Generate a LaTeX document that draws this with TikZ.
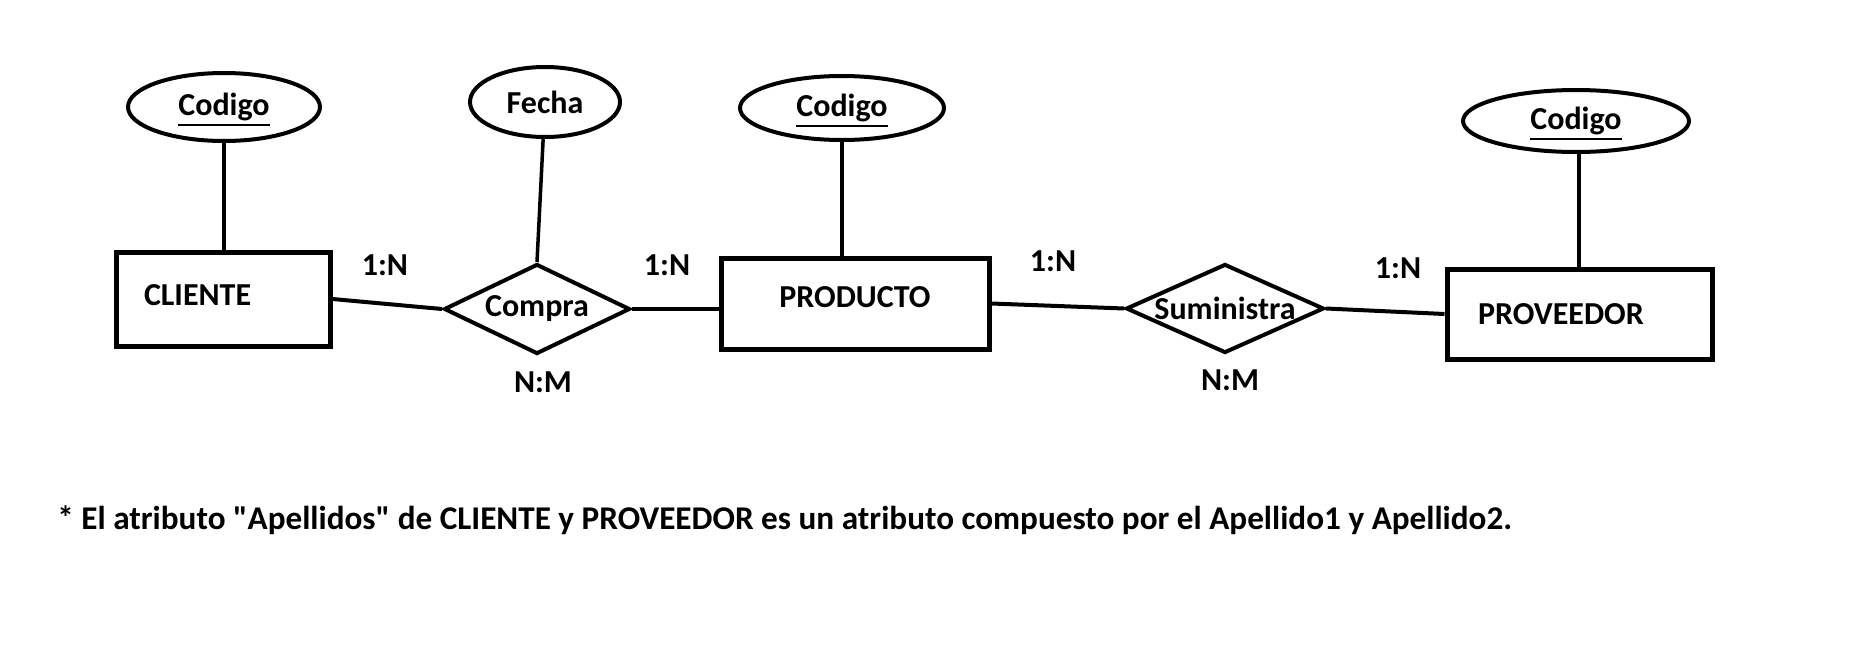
\documentclass[tikz,border=0pt]{standalone}
\usepackage{fontspec}
\setmainfont{Carlito}[Ligatures=TeXOff]
\usepackage{tikz}
\usetikzlibrary{shapes.geometric}
% underlined key attribute
\newcommand{\clave}[1]{\setbox0\hbox{#1}\rlap{\smash{\raisebox{-5pt}{\rule{\wd0}{1pt}}}}\box0}
\tikzset{
  TXT/.style={% Style for all the bold texts
      font=\bfseries\fontsize{16}{19}\selectfont,
  },
  ENT/.style={% Style for entity boxes
      rectangle, line width=2.5pt,
      draw=black,
      TXT,
      inner xsep=14pt,
  },
  REL/.style={% Style for relation diamonds, text goes in a label
      diamond, line width=2pt,
      draw=black,
      inner sep=0pt,
  },
  ATR/.style={% Style for attribute ellipses
      ellipse, line width=2pt,
      draw=black,
      inner sep=0pt,
      TXT,
  },
  CAR/.style={% Style for cardinalities
      TXT, anchor=base,
  },
  LNK/.style={line width=2pt},
  ATL/.style={line width=1.75pt},
}

\begin{document}
\begin{tikzpicture}[x=0.5pt, y=-0.5pt]
    \useasboundingbox (0,0) rectangle (1872,648);
    % entities
    \node[ENT, minimum width=107pt, minimum height=47pt, text width=79pt, text depth=4pt, align=left] (CLIENTE) at (223,299) {CLIENTE};
    \node[ENT, minimum width=134pt, minimum height=45.5pt, text depth=6pt, align=center] (PRODUCTO) at (855,303.5) {PRODUCTO};
    \node[ENT, minimum width=132.5pt, minimum height=45pt, text width=101.5pt, inner xsep=15.5pt, align=left] (PROVEEDOR) at (1579.5,314) {PROVEEDOR};
    % relations
    \node[REL, minimum width=93pt, minimum height=45pt, label={[TXT]center:Compra}] (Compra) at (537,309) {};
    \node[REL, minimum width=99pt, minimum height=44.5pt, label={[TXT]center:Suministra}] (Suministra) at (1225,308.5) {};
    % attributes
    \node[ATR, minimum width=96pt, minimum height=34pt] (CodCli) at (224,107) {\clave{Codigo}};
    \node[ATR, minimum width=75pt, minimum height=35pt] (Fecha) at (545,102) {Fecha};
    \node[ATR, minimum width=102pt, minimum height=32pt] (CodPro) at (842,108) {\clave{Codigo}};
    \node[ATR, minimum width=113pt, minimum height=31pt] (CodPrv) at (1576,121) {\clave{Codigo}};
    % attribute lines
    \draw[ATL] (CodCli) -- (CodCli |- CLIENTE.north);
    \draw[ATL] (Fecha) -- (Compra.north);
    \draw[ATL] (CodPro) -- (CodPro |- PRODUCTO.north);
    \draw[ATL] (CodPrv.south) ++(3,0) coordinate (cp) -- (cp |- PROVEEDOR.north);
    % relation lines
    \draw[LNK] (CLIENTE.east) -- (Compra.west);
    \draw[LNK] (Compra.east) -- (Compra.east -| PRODUCTO.west);
    \draw[LNK] (PRODUCTO.east) -- (Suministra.west);
    \draw[LNK] (Suministra.east) -- (PROVEEDOR.west);
    % cardinalities
    \node[CAR] (c1) at (385,275) {1:N};
    \node[CAR] (c2) at (667,275) {1:N};
    \node[CAR] (c3) at (1053,271) {1:N};
    \node[CAR] (c4) at (1398,278) {1:N};
    \node[CAR] (c5) at (543,392) {N:M};
    \node[CAR] (c6) at (1230,390) {N:M};
    % note
    \node[TXT, font=\bfseries\fontsize{16.6}{20}\selectfont, anchor=base west, inner sep=0pt] (nota) at (57,529)
      {* El atributo "Apellidos" de CLIENTE y PROVEEDOR es un atributo compuesto por el Apellido1 y Apellido2.};
\end{tikzpicture}
\end{document}
